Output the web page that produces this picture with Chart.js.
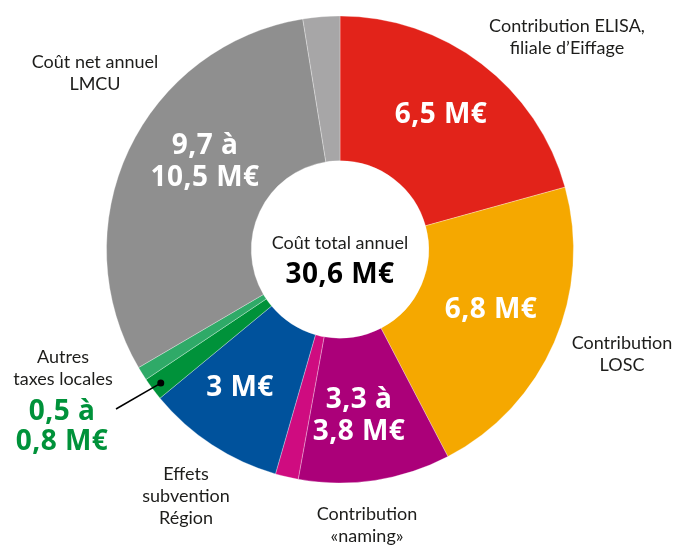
<!DOCTYPE html>
<html>
<head>
<meta charset="utf-8">
<script src="https://cdn.jsdelivr.net/npm/chart.js@4/dist/chart.umd.min.js"></script>
<style>
  html, body { margin: 0; padding: 0; background: #fff; }
  #wrap { width: 675px; height: 545px; position: relative; }
</style>
</head>
<body>
<div id="wrap"><canvas id="chart_coutAnnuel"></canvas></div>
<script>
// slices, clockwise from 12 o'clock (M€)
var categories = [
  'Contribution ELISA', 'Contribution LOSC', 'Contribution naming',
  'Contribution naming (haut)', 'Effets subvention Région',
  'Autres taxes locales', 'Autres taxes locales (haut)',
  'Coût net annuel LMCU', 'Coût net annuel LMCU (haut)'
];
var values = [6.5, 6.8, 3.3, 0.5, 3, 0.5, 0.3, 9.7, 0.8];
var colors = ['#e2231a', '#f5a800', '#ab0079', '#cf0c80', '#00529c',
              '#00923a', '#2faa68', '#8f8f8f', '#a7a6a7'];

var totalLabel = ['Coût total annuel', '30,6 M€'];

// text written on the slices
var sliceLabels = [
  { lines: ['6,5 M€'], x: 441, y: 123 },
  { lines: ['6,8 M€'], x: 491, y: 318 },
  { lines: ['3,3 à', '3,8 M€'], x: 359, y: 408 },
  { lines: ['3 M€'], x: 240, y: 396 },
  { lines: ['9,7 à', '10,5 M€'], x: 205, y: 154 }
];

// captions around the ring
var outsideLabels = [
  { lines: ['Contribution ELISA,', 'filiale d\u2019Eiffage'], x: 567, y: 32 },
  { lines: ['Coût net annuel', 'LMCU'], x: 95, y: 68 },
  { lines: ['Contribution', 'LOSC'], x: 622, y: 349 },
  { lines: ['Autres', 'taxes locales'], x: 63, y: 363 },
  { lines: ['Effets', 'subvention', 'Région'], x: 186, y: 480 },
  { lines: ['Contribution', '«naming»'], x: 367, y: 520 }
];
var greenValue = ['0,5 à', '0,8 M€'];

var BOLD = 'bold 28px "Open Sans", "Noto Sans", sans-serif';
var THIN = '18px Lato, "Noto Sans", sans-serif';

var chart_coutAnnuel = new Chart(document.getElementById('chart_coutAnnuel'), {
    type: 'doughnut',
    data: {
        labels: categories,
        datasets: [{
            data: values,
            backgroundColor: colors,
            borderColor: 'rgba(255,255,255,0.3)',
            borderWidth: 1,
            hoverOffset: 0,
            offset: 0
        }]
    },
    options: {
        animation: false,
        responsive: true,
        maintainAspectRatio: false,
        cutout: '38%',
        layout: {
            padding: { left: 106, right: 101, top: 15, bottom: 61 }
        },
        plugins: {
            legend: { display: false },
            tooltip: { enabled: false }
        }
    },
    plugins: [{
        id: 'textPlugin',
        afterDraw: function (chart) {
            var ctx = chart.ctx;
            var arcs = chart.getDatasetMeta(0).data;
            ctx.save();
            ctx.textAlign = 'center';
            ctx.textBaseline = 'alphabetic';

            // centre
            var c = arcs[0];
            ctx.fillStyle = '#1d1d1b';
            ctx.font = THIN;
            ctx.fillText(totalLabel[0], c.x, 249);
            ctx.fillStyle = '#000';
            ctx.font = BOLD;
            ctx.letterSpacing = '0.5px';
            ctx.fillText(totalLabel[1], c.x, 283);

            // on slices
            ctx.fillStyle = '#fff';
            sliceLabels.forEach(function (l) {
                l.lines.forEach(function (t, i) {
                    ctx.fillText(t, l.x, l.y + i * 32);
                });
            });

            ctx.fillStyle = '#00923a';
            ctx.fillText(greenValue[0], 62, 420);
            ctx.fillText(greenValue[1], 62, 450);

            // outside captions
            ctx.letterSpacing = '0px';
            ctx.fillStyle = '#1d1d1b';
            ctx.font = THIN;
            outsideLabels.forEach(function (l) {
                l.lines.forEach(function (t, i) {
                    ctx.fillText(t, l.x, l.y + i * 22);
                });
            });

            // leader to the green slice
            var g = arcs[5];
            var a = (g.startAngle + g.endAngle) / 2;
            var r = g.outerRadius - 10;
            var px = g.x + Math.cos(a) * r, py = g.y + Math.sin(a) * r;
            ctx.strokeStyle = '#000';
            ctx.lineWidth = 1.5;
            ctx.beginPath();
            ctx.moveTo(px, py);
            ctx.lineTo(116, 409);
            ctx.stroke();
            ctx.fillStyle = '#000';
            ctx.beginPath();
            ctx.arc(px, py, 3.5, 0, Math.PI * 2);
            ctx.fill();
            ctx.restore();
        }
    }, {
        id: 'whiteBg',
        beforeDraw: function (chart) {
            var ctx = chart.canvas.getContext('2d');
            ctx.save();
            ctx.globalCompositeOperation = 'destination-over';
            ctx.fillStyle = 'white';
            ctx.fillRect(0, 0, chart.canvas.width, chart.canvas.height);
            ctx.restore();
        }
    }]
});
</script>
</body>
</html>
